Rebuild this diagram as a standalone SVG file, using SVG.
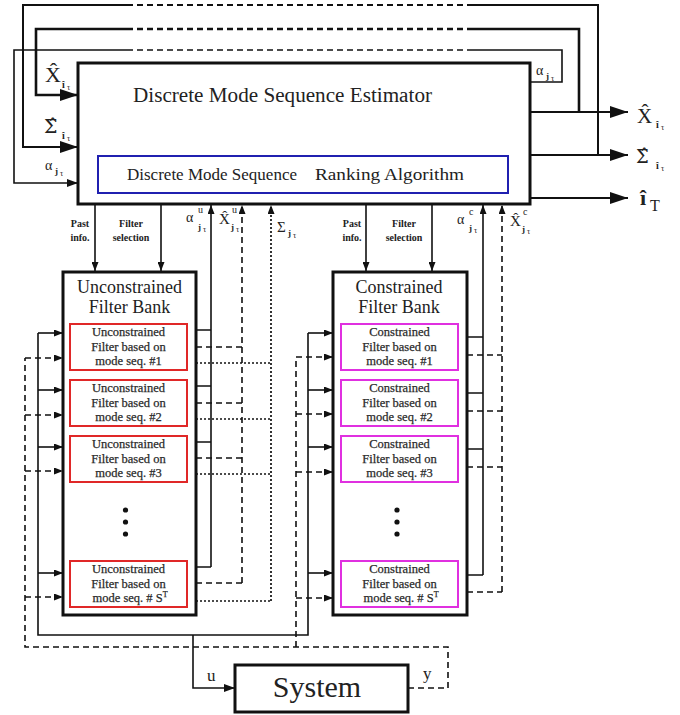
<svg xmlns="http://www.w3.org/2000/svg" width="680" height="715" viewBox="0 0 680 715">
<style>
.t{font-family:"Liberation Serif","Times New Roman",serif;fill:#222}
.sg{font-family:"DejaVu Serif","Liberation Serif",serif}
.box{fill:#fff;stroke:#111;stroke-width:3}
.red{fill:#fff;stroke:#e02828;stroke-width:2}
.mag{fill:#fff;stroke:#e030e0;stroke-width:2}
.ln{fill:none;stroke:#111;stroke-width:1.6}
.dash{fill:none;stroke:#111;stroke-width:1.6;stroke-dasharray:6 4}
.dot{fill:none;stroke:#111;stroke-width:1.7;stroke-dasharray:2 2}
.ft{font-family:"Liberation Serif","Times New Roman",serif;fill:#2a2a2a;font-size:12.5px;text-anchor:middle;stroke:#2a2a2a;stroke-width:0.25}
.sm{font-family:"Liberation Serif","Times New Roman",serif;fill:#222;font-size:10px;font-weight:bold;text-anchor:middle}
</style>
<defs>
<marker id="ab" viewBox="0 0 18 12" refX="18" refY="6" markerWidth="18" markerHeight="12" markerUnits="userSpaceOnUse" orient="auto"><path d="M0,0 L18,6 L0,12 z" fill="#111"/></marker>
<marker id="am" viewBox="0 0 11 8" refX="11" refY="4" markerWidth="11" markerHeight="8" markerUnits="userSpaceOnUse" orient="auto"><path d="M0,0 L11,4 L0,8 z" fill="#111"/></marker>
<marker id="as" viewBox="0 0 9 7" refX="9" refY="3.5" markerWidth="9" markerHeight="7" markerUnits="userSpaceOnUse" orient="auto"><path d="M0,0 L9,3.5 L0,7 z" fill="#111"/></marker>
</defs>
<rect width="680" height="715" fill="#fff"/>

<g id="connectors">
<path class="ln" style="stroke-width:2" d="M598,155 V5 H473"/>
<path class="dash" style="stroke-width:2" d="M473,5 H133"/>
<path class="ln" style="stroke-width:2" d="M133,5 H23 V147 H78" marker-end="url(#ab)"/>
<path class="ln" style="stroke-width:2.6" d="M579,112 V29 H473"/>
<path class="dash" style="stroke-width:2.6" d="M473,29 H133"/>
<path class="ln" style="stroke-width:2.6" d="M133,29 H36 V95 H78" marker-end="url(#ab)"/>
<path class="ln" d="M530,82 H562 V50 H473"/>
<path class="dash" d="M473,50 H133"/>
<path class="ln" d="M133,50 H14 V183 H78" marker-end="url(#am)"/>
<path class="ln" style="stroke-width:2" d="M530,112 H628" marker-end="url(#ab)"/>
<path class="ln" style="stroke-width:2" d="M530,155 H628" marker-end="url(#ab)"/>
<path class="ln" style="stroke-width:2" d="M530,198 H628" marker-end="url(#ab)"/>
<path class="ln" d="M95,205 V271" marker-end="url(#as)"/>
<path class="ln" d="M161,205 V271" marker-end="url(#as)"/>
<path class="ln" d="M366,205 V271" marker-end="url(#as)"/>
<path class="ln" d="M432,205 V271" marker-end="url(#as)"/>
<path class="ln" d="M196,330 H211 M196,386 H211 M196,442 H211 M196,567 H211"/>
<path class="ln" d="M211,567 V205" marker-end="url(#as)"/>
<path class="dash" d="M196,347 H242 M196,403 H242 M196,458 H242 M196,583 H242"/>
<path class="dash" d="M242,583 V205" marker-end="url(#as)"/>
<path class="dot" d="M196,363 H271 M196,419 H271 M196,474 H271 M196,601 H271"/>
<path class="dot" d="M271,601 V205" marker-end="url(#as)"/>
<path class="ln" d="M467,337 H483 M467,393 H483 M467,449 H483 M467,575 H483"/>
<path class="ln" d="M483,575 V205" marker-end="url(#as)"/>
<path class="dash" d="M467,355 H502 M467,411 H502 M467,467 H502 M467,592 H502"/>
<path class="dash" d="M502,592 V205" marker-end="url(#as)"/>
<path class="ln" d="M38,333 H63" marker-end="url(#as)"/>
<path class="ln" d="M38,390 H63" marker-end="url(#as)"/>
<path class="ln" d="M38,447 H63" marker-end="url(#as)"/>
<path class="ln" d="M38,573 H63" marker-end="url(#as)"/>
<path class="dash" d="M25,358 H63" marker-end="url(#as)"/>
<path class="dash" d="M25,415 H63" marker-end="url(#as)"/>
<path class="dash" d="M25,471 H63" marker-end="url(#as)"/>
<path class="dash" d="M25,597 H63" marker-end="url(#as)"/>
<path class="ln" d="M308,333 H333" marker-end="url(#as)"/>
<path class="ln" d="M308,390 H333" marker-end="url(#as)"/>
<path class="ln" d="M308,447 H333" marker-end="url(#as)"/>
<path class="ln" d="M308,573 H333" marker-end="url(#as)"/>
<path class="dash" d="M296,357 H333" marker-end="url(#as)"/>
<path class="dash" d="M296,414 H333" marker-end="url(#as)"/>
<path class="dash" d="M296,472 H333" marker-end="url(#as)"/>
<path class="dash" d="M296,598 H333" marker-end="url(#as)"/>
<path class="ln" d="M38,333 V635 H308 V333"/>
<path class="ln" d="M193,635 V688 H235" marker-end="url(#am)"/>
<path class="dash" d="M408,688 H448 V647 H25 V358"/>
<path class="dash" d="M296,647 V357"/>
</g>

<g id="connector-labels">
<text class="t"><tspan x="45" y="82" font-size="22">X̂</tspan><tspan x="62" y="88" font-size="10" font-weight="bold">î</tspan><tspan x="67" y="90" font-size="8">τ</tspan></text>
<text class="t"><tspan class="sg" x="44" y="133" font-size="19">Σ̂</tspan><tspan x="62" y="139" font-size="10" font-weight="bold">î</tspan><tspan x="67" y="141" font-size="8">τ</tspan></text>
<text class="t"><tspan x="45" y="170" font-size="14">α</tspan><tspan x="55" y="174" font-size="9" font-weight="bold">j</tspan><tspan x="60" y="176" font-size="8">τ</tspan></text>
<text class="t"><tspan x="536" y="75" font-size="14">α</tspan><tspan x="546" y="79" font-size="9" font-weight="bold">j</tspan><tspan x="551" y="81" font-size="8">τ</tspan></text>
<text class="t"><tspan x="637" y="123" font-size="21">X̂</tspan><tspan x="656" y="128" font-size="10" font-weight="bold">î</tspan><tspan x="661" y="130" font-size="8">τ</tspan></text>
<text class="t"><tspan class="sg" x="636" y="163" font-size="18">Σ̂</tspan><tspan x="656" y="169" font-size="10" font-weight="bold">î</tspan><tspan x="661" y="171" font-size="8">τ</tspan></text>
<text class="t"><tspan x="640" y="205" font-size="22" font-weight="bold">î</tspan><tspan x="650" y="211" font-size="16">T</tspan></text>
<text class="sm" x="80" y="227">Past</text>
<text class="sm" x="80" y="241">info.</text>
<text class="sm" x="131" y="227">Filter</text>
<text class="sm" x="131" y="241">selection</text>
<text class="sm" x="352" y="227">Past</text>
<text class="sm" x="352" y="241">info.</text>
<text class="sm" x="404" y="227">Filter</text>
<text class="sm" x="404" y="241">selection</text>
<text class="t"><tspan x="186" y="222" font-size="14">α</tspan><tspan x="198" y="213" font-size="10">u</tspan><tspan x="198" y="230" font-size="9" font-weight="bold">j</tspan><tspan x="203" y="232" font-size="8">τ</tspan></text>
<text class="t"><tspan x="219" y="224" font-size="15">X̂</tspan><tspan x="232" y="213" font-size="10">u</tspan><tspan x="231" y="230" font-size="9" font-weight="bold">j</tspan><tspan x="236" y="232" font-size="8">τ</tspan></text>
<text class="t"><tspan x="277" y="232" font-size="15">Σ</tspan><tspan x="288" y="236" font-size="9" font-weight="bold">j</tspan><tspan x="293" y="238" font-size="8">τ</tspan></text>
<text class="t"><tspan x="457" y="224" font-size="14">α</tspan><tspan x="469" y="215" font-size="10">c</tspan><tspan x="469" y="231" font-size="9" font-weight="bold">j</tspan><tspan x="474" y="233" font-size="8">τ</tspan></text>
<text class="t"><tspan x="510" y="226" font-size="15">X̂</tspan><tspan x="523" y="215" font-size="10">c</tspan><tspan x="522" y="232" font-size="9" font-weight="bold">j</tspan><tspan x="527" y="234" font-size="8">τ</tspan></text>
<text class="t" x="207" y="681" font-size="17">u</text>
<text class="t" x="423" y="679" font-size="17">y</text>
</g>

<g id="estimator">
<rect class="box" x="78" y="63" width="452" height="141"/>
<text class="t" x="133" y="102" font-size="20" textLength="299" lengthAdjust="spacingAndGlyphs">Discrete Mode Sequence Estimator</text>
</g>
<g id="ranking">
<rect x="98" y="156" width="410" height="37" fill="#fff" stroke="#2020b0" stroke-width="2"/>
<text class="t" x="127" y="180" font-size="17.5" textLength="170" lengthAdjust="spacingAndGlyphs">Discrete Mode Sequence</text>
<text class="t" x="315" y="180" font-size="17.5" textLength="149" lengthAdjust="spacingAndGlyphs">Ranking Algorithm</text>
</g>

<g id="unconstrained-bank">
<rect class="box" x="63" y="272" width="133" height="343"/>
<text class="t" x="129.5" y="293" font-size="18" text-anchor="middle">Unconstrained</text>
<text class="t" x="129.5" y="313" font-size="18" text-anchor="middle">Filter Bank</text>
<g id="u-filter-1"><rect class="red" x="70" y="324" width="117" height="46"/>
<text class="ft" x="128.5" y="336">Unconstrained</text><text class="ft" x="128.5" y="351">Filter based on</text><text class="ft" x="128.5" y="365">mode seq. #1</text></g>
<g id="u-filter-2"><rect class="red" x="70" y="380" width="117" height="46"/>
<text class="ft" x="128.5" y="392">Unconstrained</text><text class="ft" x="128.5" y="407">Filter based on</text><text class="ft" x="128.5" y="421">mode seq. #2</text></g>
<g id="u-filter-3"><rect class="red" x="70" y="436" width="117" height="46"/>
<text class="ft" x="128.5" y="448">Unconstrained</text><text class="ft" x="128.5" y="463">Filter based on</text><text class="ft" x="128.5" y="477">mode seq. #3</text></g>
<circle cx="125.5" cy="510" r="2.6" fill="#111"/><circle cx="125.5" cy="522" r="2.6" fill="#111"/><circle cx="125.5" cy="534" r="2.6" fill="#111"/>
<g id="u-filter-s"><rect class="red" x="70" y="561" width="117" height="46"/>
<text class="ft" x="128.5" y="573">Unconstrained</text><text class="ft" x="128.5" y="588">Filter based on</text><text class="ft" x="130" y="602">mode seq. # S<tspan font-size="8" dy="-5">T</tspan></text></g>
</g>

<g id="constrained-bank">
<rect class="box" x="333" y="272" width="134" height="343"/>
<text class="t" x="399" y="293" font-size="18" text-anchor="middle">Constrained</text>
<text class="t" x="399" y="313" font-size="18" text-anchor="middle">Filter Bank</text>
<g id="c-filter-1"><rect class="mag" x="341" y="324" width="117" height="46"/>
<text class="ft" x="399.5" y="336">Constrained</text><text class="ft" x="399.5" y="351">Filter based on</text><text class="ft" x="399.5" y="365">mode seq. #1</text></g>
<g id="c-filter-2"><rect class="mag" x="341" y="380" width="117" height="46"/>
<text class="ft" x="399.5" y="392">Constrained</text><text class="ft" x="399.5" y="407">Filter based on</text><text class="ft" x="399.5" y="421">mode seq. #2</text></g>
<g id="c-filter-3"><rect class="mag" x="341" y="436" width="117" height="46"/>
<text class="ft" x="399.5" y="448">Constrained</text><text class="ft" x="399.5" y="463">Filter based on</text><text class="ft" x="399.5" y="477">mode seq. #3</text></g>
<circle cx="397" cy="510" r="2.6" fill="#111"/><circle cx="397" cy="522" r="2.6" fill="#111"/><circle cx="397" cy="534" r="2.6" fill="#111"/>
<g id="c-filter-s"><rect class="mag" x="341" y="561" width="117" height="46"/>
<text class="ft" x="399.5" y="573">Constrained</text><text class="ft" x="399.5" y="588">Filter based on</text><text class="ft" x="401" y="602">mode seq. # S<tspan font-size="8" dy="-5">T</tspan></text></g>
</g>

<g id="system">
<rect class="box" x="235" y="665" width="173" height="47"/>
<text class="t" x="317" y="697" font-size="30" text-anchor="middle">System</text>
</g>
</svg>
